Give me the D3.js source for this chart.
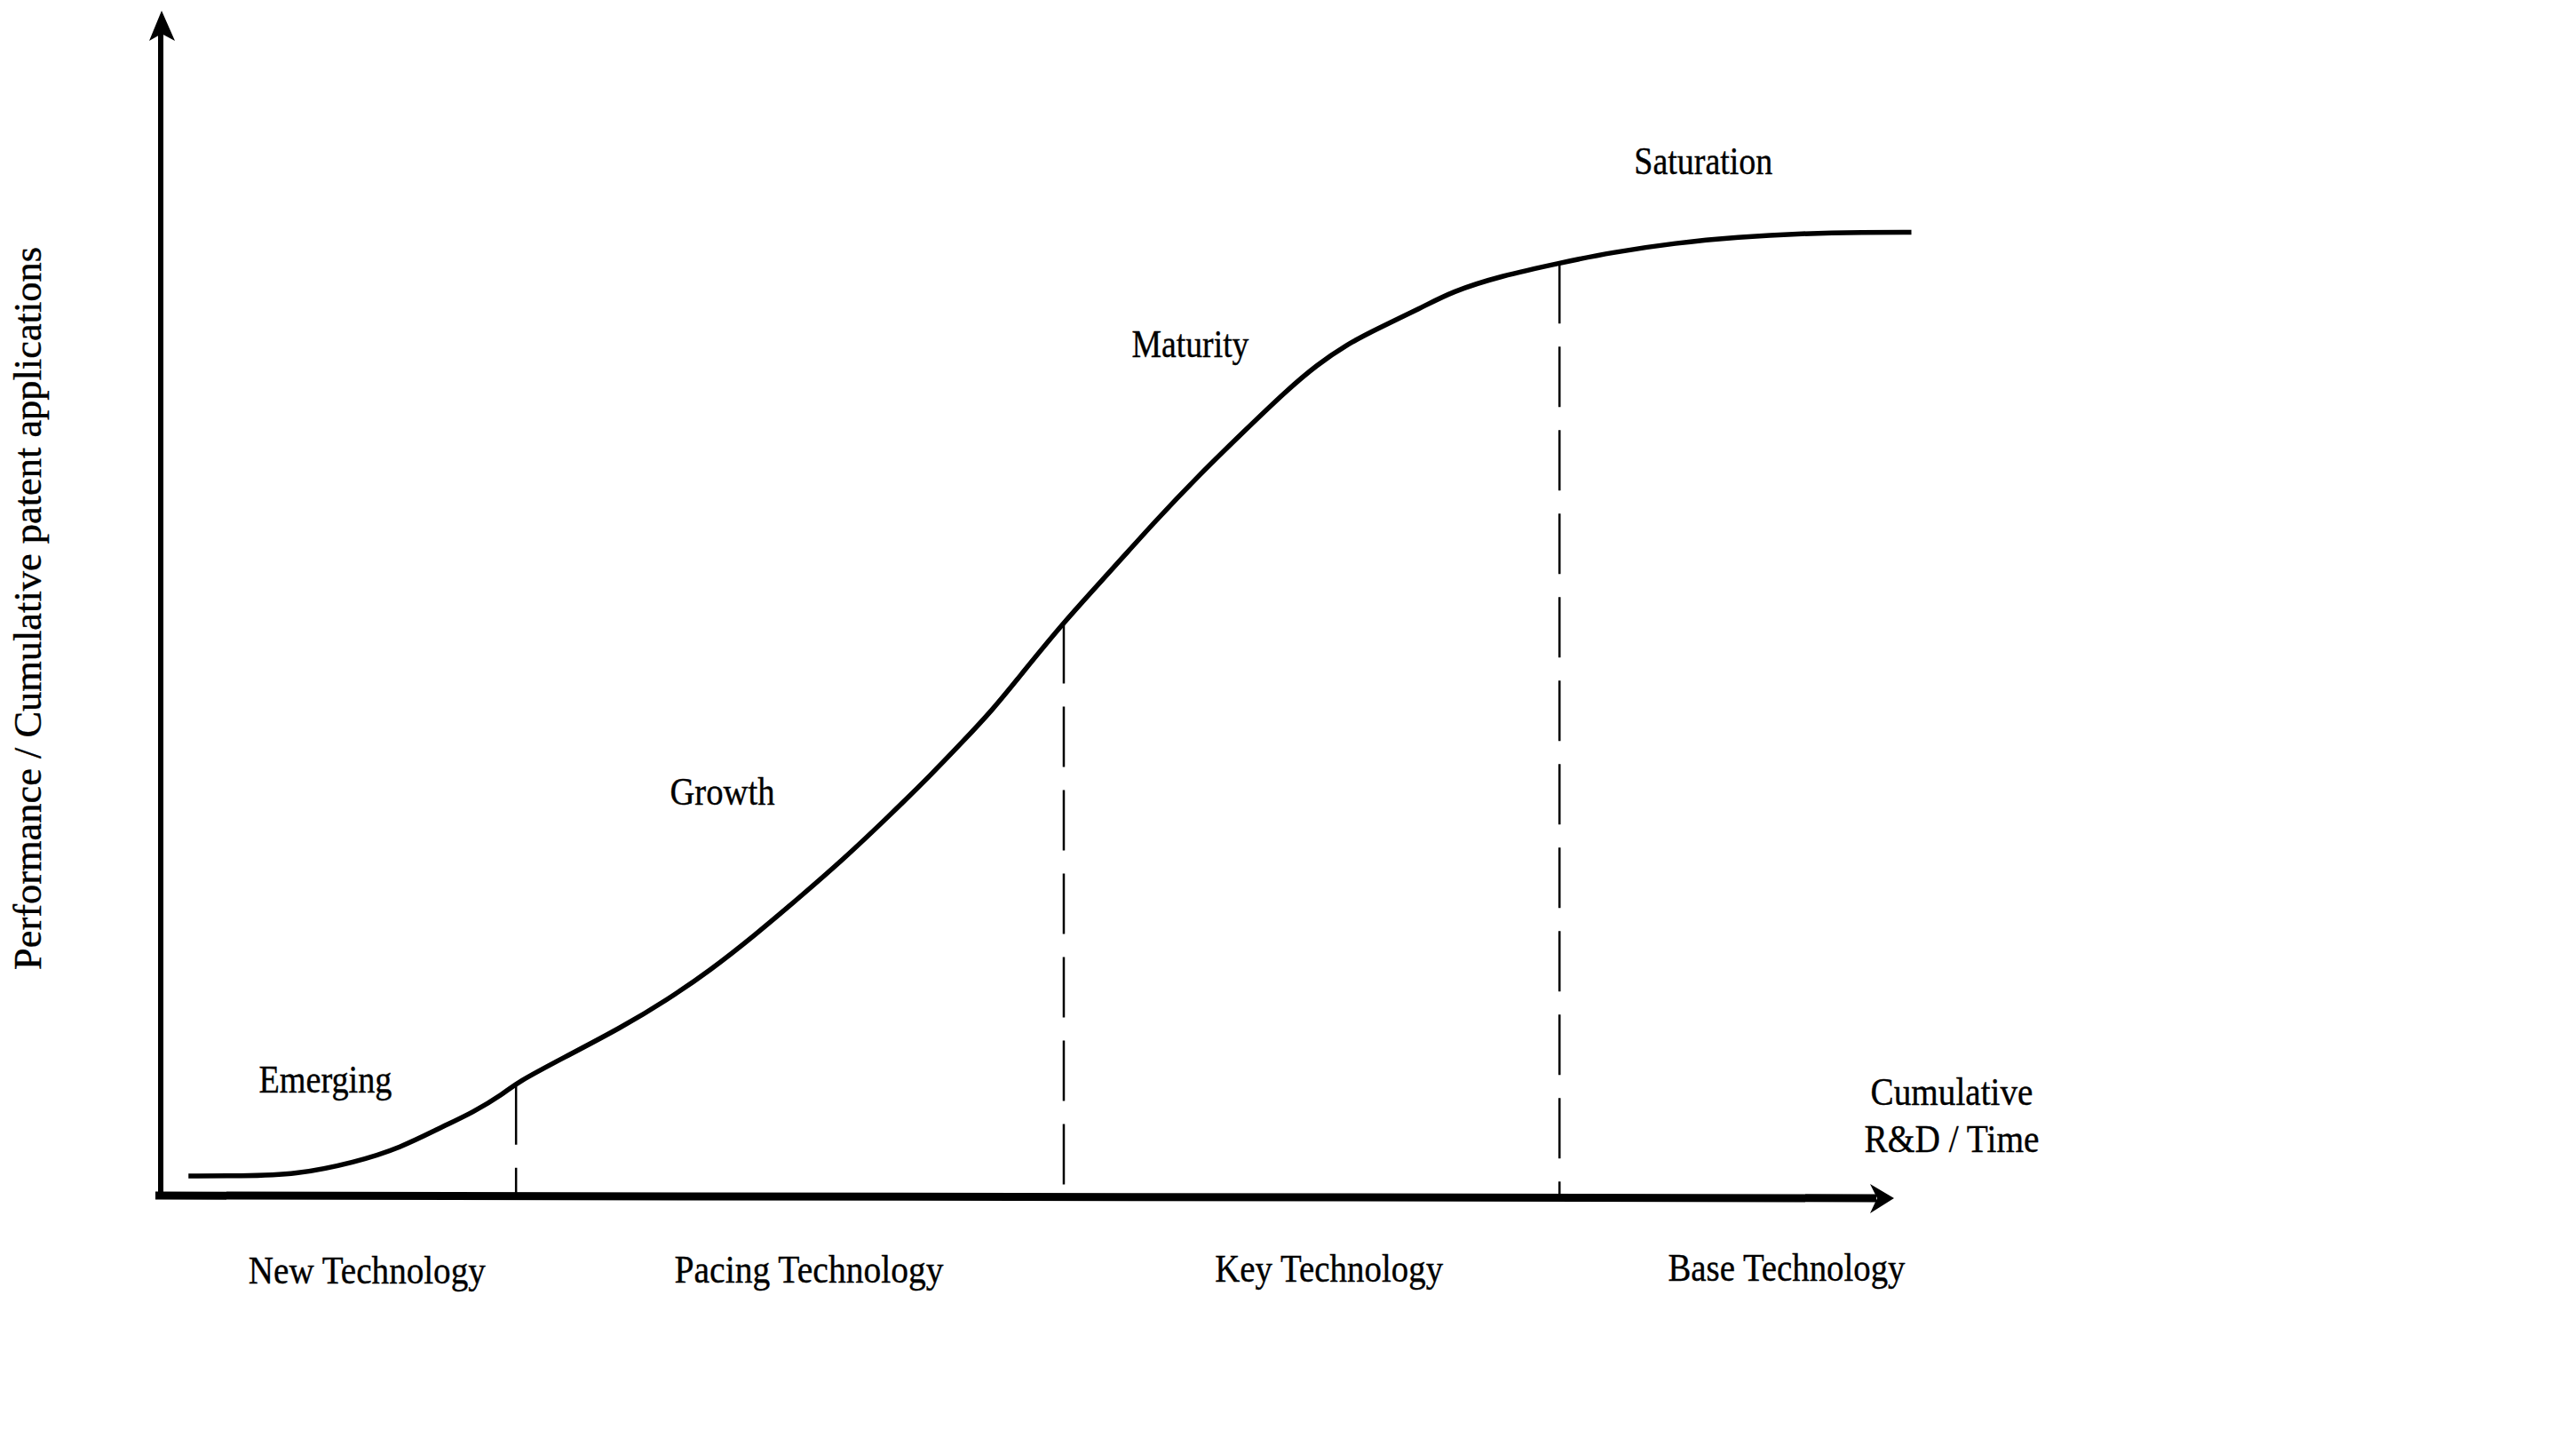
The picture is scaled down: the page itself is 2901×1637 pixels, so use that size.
<!DOCTYPE html>
<html>
<head>
<meta charset="utf-8">
<script src="https://cdn.jsdelivr.net/npm/d3@7"></script>
<style>
  html, body { margin: 0; padding: 0; background: #fff; }
  svg { display: block; }
  text { font-family: "Liberation Serif", "Times New Roman", serif; fill: #000; stroke: #000; stroke-width: 0.4; }
</style>
</head>
<body>
<svg id="chart" width="2901" height="1637"></svg>
<script>
// ---------- data ----------
// cumulative R&D / time (arbitrary units 0..100)
const rdTime = [1.6, 4.6, 7.8, 11.2, 13.8, 16.3, 18.0, 19.8, 20.5, 23.2, 26.6, 29.2, 31.7, 34.3, 36.8, 39.4, 42.0, 44.5, 46.2, 48.0, 49.6, 52.1, 54.8, 57.3, 59.9, 62.5, 65.0, 66.7, 68.4, 70.1, 72.7, 74.5, 77.3, 80.7, 83.7, 87.4, 91.0, 94.7, 98.3, 101.0];
// performance / cumulative patent applications (arbitrary units 0..100)
const performance = [1.65, 1.65, 1.75, 2.8, 4.0, 5.85, 7.0, 8.6, 9.5, 11.6, 14.2, 16.5, 19.0, 22.0, 25.1, 28.4, 32.0, 35.6, 38.2, 41.0, 43.9, 48.4, 52.7, 56.8, 60.8, 64.5, 68.0, 70.1, 71.8, 73.1, 74.9, 76.3, 77.6, 78.7, 79.6, 80.4, 80.9, 81.2, 81.3, 81.3];
// boundaries between stages (R&D / time units)
const stageBoundaries = [20.5, 52.1, 80.7];
// stage labels (on the curve) and technology labels (below the axis)
const stageLabels = ["Emerging", "Growth", "Maturity", "Saturation"];
const techLabels = ["New Technology", "Pacing Technology", "Key Technology", "Base Technology"];
const xAxisTitle = ["Cumulative", "R&D / Time"];
const yAxisTitle = "Performance / Cumulative patent applications";

// ---------- layout ----------
const svg = d3.select("#chart");
const x = d3.scaleLinear().domain([0, 100]).range([181, 2133]);
const y = d3.scaleLinear().domain([0, 100]).range([1346, 12]);

const FS = 45;
// label anchors in data units [x, y] and rendered widths
const stageLayout = [
  {cx: 9.5, cy: 8.7, w: 150},
  {cx: 32.4, cy: 33.0, w: 118},
  {cx: 59.4, cy: 70.8, w: 132},
  {cx: 89.0, cy: 86.2, w: 156}
];
const techLayout = [
  {cx: 11.9, w: 267},
  {cx: 37.4, w: 303},
  {cx: 67.4, w: 257},
  {cx: 93.8, w: 267}
];

const pts = rdTime.map((v, i) => [v, performance[i]]);

// ---------- axes ----------
// y axis
svg.append("line")
  .attr("x1", x(0)).attr("x2", x(0))
  .attr("y1", y(0) + 4).attr("y2", y(100) + 24)
  .attr("stroke", "#000").attr("stroke-width", 6);
const yt = [x(0) + 1, y(100)];
svg.append("path")
  .attr("d", `M${yt[0]},${yt[1]} L${yt[0] + 15},${yt[1] + 34} L${yt[0]},${yt[1] + 26} L${yt[0] - 14},${yt[1] + 34} Z`)
  .attr("fill", "#000");

// x axis
svg.append("line")
  .attr("x1", x(0) - 6).attr("x2", x(100) - 20)
  .attr("y1", y(0)).attr("y2", y(0) + 3)
  .attr("stroke", "#000").attr("stroke-width", 9);
const xt = [x(100), y(0) + 3];
svg.append("path")
  .attr("d", `M${xt[0]},${xt[1]} L${xt[0] - 27},${xt[1] - 16} L${xt[0] - 19},${xt[1]} L${xt[0] - 27},${xt[1] + 17} Z`)
  .attr("fill", "#000");

// ---------- curve ----------
const line = d3.line()
  .x(d => x(d[0]))
  .y(d => y(d[1]))
  .curve(d3.curveBasis);
const curvePath = svg.append("path")
  .datum(pts)
  .attr("d", line)
  .attr("fill", "none")
  .attr("stroke", "#000")
  .attr("stroke-width", 5.5)
  .attr("stroke-linecap", "butt");

// y of the drawn curve at a given data x (searched along the rendered path)
function curvePixelY(px) {
  const node = curvePath.node();
  const L = node.getTotalLength();
  let lo = 0, hi = L;
  for (let k = 0; k < 40; k++) {
    const mid = (lo + hi) / 2;
    if (node.getPointAtLength(mid).x < px) lo = mid; else hi = mid;
  }
  return node.getPointAtLength(lo).y;
}

// ---------- stage boundaries ----------
svg.selectAll("line.stage")
  .data(stageBoundaries)
  .join("line")
  .attr("class", "stage")
  .attr("x1", d => x(d)).attr("x2", d => x(d))
  .attr("y1", d => curvePixelY(x(d)))
  .attr("y2", y(0))
  .attr("stroke", "#000").attr("stroke-width", 2.5)
  .attr("stroke-dasharray", "68,26");

// ---------- labels ----------
svg.selectAll("text.stageLabel")
  .data(stageLabels)
  .join("text")
  .attr("class", "stageLabel")
  .attr("x", (d, i) => x(stageLayout[i].cx))
  .attr("y", (d, i) => y(stageLayout[i].cy))
  .attr("text-anchor", "middle")
  .attr("font-size", FS)
  .attr("textLength", (d, i) => stageLayout[i].w)
  .attr("lengthAdjust", "spacingAndGlyphs")
  .text(d => d);

svg.selectAll("text.techLabel")
  .data(techLabels)
  .join("text")
  .attr("class", "techLabel")
  .attr("x", (d, i) => x(techLayout[i].cx))
  .attr("y", (d, i) => 1445 - i)
  .attr("text-anchor", "middle")
  .attr("font-size", FS)
  .attr("textLength", (d, i) => techLayout[i].w)
  .attr("lengthAdjust", "spacingAndGlyphs")
  .text(d => d);

const xTitleW = [183, 197];
svg.selectAll("text.xTitle")
  .data(xAxisTitle)
  .join("text")
  .attr("class", "xTitle")
  .attr("x", 2198)
  .attr("y", (d, i) => 1244 + i * 53)
  .attr("text-anchor", "middle")
  .attr("font-size", FS)
  .attr("textLength", (d, i) => xTitleW[i])
  .attr("lengthAdjust", "spacingAndGlyphs")
  .text(d => d);

svg.append("text")
  .attr("transform", "translate(46,685) rotate(-90)")
  .attr("text-anchor", "middle")
  .attr("font-size", FS)
  .attr("textLength", 814)
  .attr("lengthAdjust", "spacingAndGlyphs")
  .text(yAxisTitle);
</script>
</body>
</html>
